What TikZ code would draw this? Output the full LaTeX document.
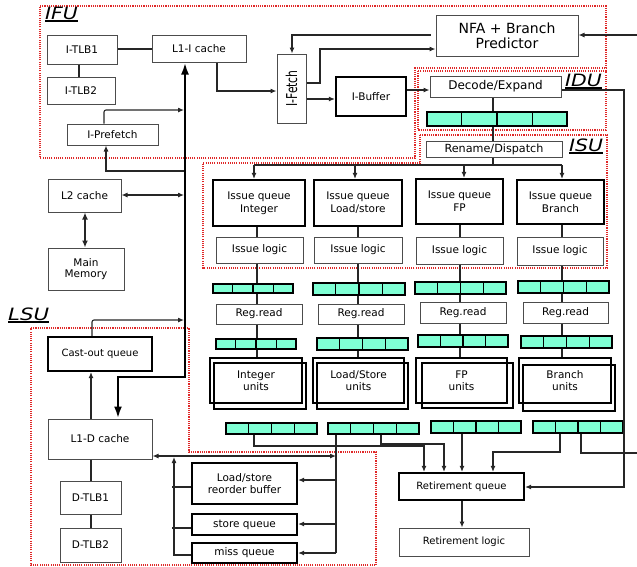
\documentclass[tikz,border=0pt]{standalone}
\usepackage{fontspec}
\setmainfont{DejaVu Sans}
\usetikzlibrary{calc,arrows.meta}
\definecolor{aqua}{HTML}{7FFFD4}
\definecolor{dotred}{HTML}{E02828}
\newcommand\bx[7]{\node[#6, minimum width={(#4)-(#2)}, minimum height={(#5)-(#3)}] (#1) at ({((#2)+(#4))/2},{((#3)+(#5))/2}) {#7};}
\newcommand\cbar[5]{\node[cbarsty, minimum width={(#4)-(#2)}, minimum height={(#5)-(#3)}] (#1) at ({((#2)+(#4))/2},{((#3)+(#5))/2}) {};
  \foreach \k in {1,2,3}{\draw[cellsep] ($(#1.north west)!\k/4!(#1.north east)$) -- ($(#1.south west)!\k/4!(#1.south east)$);}}
\newcommand\ulbl[1]{\setbox0\hbox{#1}\rlap{\rule[-3pt]{\wd0}{1.6pt}}\box0}
\begin{document}
\begin{tikzpicture}[x=1pt,y=-1pt,
  >={Latex[length=6pt,width=5pt]},
  thinbox/.style={draw=black!70, line width=1pt, fill=white, inner sep=0pt, align=center, font=\fontsize{10.5}{12}\selectfont},
  boldbox/.style={thinbox, draw=black, line width=2.2pt},
  unitbox/.style={draw=black, line width=1.3pt, inner sep=0pt, align=center, font=\fontsize{10.5}{12.5}\selectfont},
  cbarsty/.style={draw=black, line width=1.2pt, fill=aqua, inner sep=0pt},
  cellsep/.style={black, line width=1.2pt},
  conn/.style={draw=black!85, line width=1.1pt},
  bus/.style={draw=black, line width=2.6pt, >={Latex[length=12pt,width=8pt]}},
  region/.style={draw=dotred, line width=1.1pt, dash pattern=on 1.1pt off 1.1pt},
  lbl/.style={font=\fontsize{17}{17}\selectfont\itshape, inner sep=0pt, anchor=base west}]
\useasboundingbox (0,0) rectangle (637,566);

% regions
\draw[region] (40,6) -- (606,6) -- (606,68) -- (415,68) -- (415,158) -- (40,158) -- cycle;
\draw[region] (418,71) rectangle (606,130);
\draw[region] (420,135) -- (607,135) -- (607,268) -- (203,268) -- (203,163) -- (420,163) -- cycle;
\draw[region] (31,328) -- (189,328) -- (189,452) -- (376,452) -- (376,565) -- (31,565) -- cycle;

\node[lbl] (ifulbl) at (45,19) {\ulbl{\scalebox{1.2}[1]{IFU}}};
\node[lbl] (idulbl) at (565,86) {\ulbl{\scalebox{1.2}[1]{IDU}}};
\node[lbl] (isulbl) at (569,151) {\ulbl{\scalebox{1.2}[1]{ISU}}};
\node[lbl] (lsulbl) at (8,320) {\ulbl{\scalebox{1.25}[1]{LSU}}};

% IFU
\bx{itlb1}{47}{35}{117}{64}{thinbox}{I-TLB1}
\bx{itlb2}{47}{77}{115}{104}{thinbox}{I-TLB2}
\bx{l1i}{152}{35}{246}{62}{thinbox}{L1-I cache}
\bx{ipref}{67}{124}{158}{145}{thinbox}{I-Prefetch}
\bx{ifetch}{277}{54}{306}{123}{thinbox}{\rotatebox{90}{\scalebox{0.72}[1]{\fontsize{15}{15}\selectfont I-Fetch}}}
\bx{nfa}{436}{15}{578}{56}{thinbox,font=\fontsize{14}{15}\selectfont}{NFA + Branch\\Predictor}
\bx{ibuf}{336}{77}{406}{116}{boldbox}{I-Buffer}
\bx{decode}{430}{76}{561}{97}{thinbox,font=\fontsize{12}{13}\selectfont}{Decode/Expand}
\cbar{bar0}{427}{112}{567}{126}
\bx{rename}{426}{141}{562}{157}{thinbox,font=\fontsize{11.2}{13}\selectfont}{Rename/Dispatch}

% ISU
\bx{iq1}{213}{180}{305}{226}{boldbox,font=\fontsize{10.5}{13}\selectfont}{Issue queue\\Integer}
\bx{iq2}{314}{180}{402}{226}{boldbox,font=\fontsize{10.5}{13}\selectfont}{Issue queue\\Load/store}
\bx{iq3}{416}{179}{503}{224}{boldbox,font=\fontsize{10.5}{13}\selectfont}{Issue queue\\FP}
\bx{iq4}{517}{180}{604}{224}{boldbox,font=\fontsize{10.5}{13}\selectfont}{Issue queue\\Branch}
\bx{il1}{216}{237}{303}{263}{thinbox}{Issue logic}
\bx{il2}{314}{237}{402}{263}{thinbox}{Issue logic}
\bx{il3}{416}{237}{503}{264}{thinbox}{Issue logic}
\bx{il4}{517}{237}{603}{265}{thinbox}{Issue logic}

\cbar{ba1}{213}{284}{293}{293}
\cbar{ba2}{313}{283}{405}{295}
\cbar{ba3}{415}{282}{506}{294}
\cbar{ba4}{518}{281}{609}{293}
\bx{rr1}{216}{304}{302}{324}{thinbox}{Reg.read}
\bx{rr2}{318}{304}{404}{324}{thinbox}{Reg.read}
\bx{rr3}{420}{302}{506}{323}{thinbox}{Reg.read}
\bx{rr4}{523}{302}{608}{323}{thinbox}{Reg.read}
\cbar{bb1}{216}{339}{296}{349}
\cbar{bb2}{317}{338}{408}{350}
\cbar{bb3}{418}{335}{508}{347}
\cbar{bb4}{521}{336}{612}{348}

\bx{ub1}{210}{358}{302}{403}{unitbox}{Integer\\units}
\bx{uf1}{214}{363}{306}{409}{unitbox}{}
\bx{ub2}{313}{358}{404}{403}{unitbox}{Load/Store\\units}
\bx{uf2}{317}{363}{408}{409}{unitbox}{}
\bx{ub3}{416}{358}{507}{403}{unitbox}{FP\\units}
\bx{uf3}{422}{363}{513}{408}{unitbox}{}
\bx{ub4}{519}{358}{611}{403}{unitbox}{Branch\\units}
\bx{uf4}{523}{365}{615}{411}{unitbox}{}

\cbar{bc1}{226}{423}{317}{434}
\cbar{bc2}{328}{423}{419}{434}
\cbar{bc3}{431}{421}{521}{433}
\cbar{bc4}{533}{421}{623}{433}

\bx{rq}{399}{473}{524}{500}{boldbox,font=\fontsize{10}{12}\selectfont}{Retirement queue}
\bx{rl}{399}{528}{529}{556}{thinbox,font=\fontsize{10}{12}\selectfont}{Retirement logic}

% memory side / LSU
\bx{l2}{48}{179}{121}{212}{thinbox}{L2 cache}
\bx{mem}{48}{248}{124}{290}{thinbox,font=\fontsize{10.5}{11.5}\selectfont}{Main\\Memory}
\bx{coq}{48}{337}{152}{371}{boldbox,font=\fontsize{10}{12}\selectfont}{Cast-out queue}
\bx{l1d}{48}{419}{152}{459}{thinbox}{L1-D cache}
\bx{dtlb1}{60}{481}{121}{514}{thinbox}{D-TLB1}
\bx{dtlb2}{60}{528}{121}{562}{thinbox}{D-TLB2}
\bx{lsrb}{192}{463}{297}{504}{boldbox,font=\fontsize{10.5}{11.5}\selectfont}{Load/store\\reorder buffer}
\bx{sq}{192}{514}{297}{535}{boldbox}{store queue}
\bx{mq}{192}{543}{297}{563}{boldbox}{miss queue}

\coordinate (extin) at (637,35);
\coordinate (extout) at (637,453);

% IFU connectors
\draw[conn] (itlb1.east |- 0,49) -- (l1i.west |- 0,49);
\draw[conn] (itlb1.south -| 79,0) -- (itlb2.north -| 79,0);
\draw[conn,->] (l1i.south -| 217,0) |- (ifetch.west |- 0,91);
\draw[bus,<->] (l1d.north -| 118,0) |- (185,377) -- (l1i.south -| 185,0);
\draw[conn,->,rounded corners=2pt] (ipref.north -| 104,0) |- (184,110);
\draw[conn,->] (184,171) -| (ipref.south -| 106,0);
\draw[conn,<->] (l2.east |- 0,195) -- (184,195);
\draw[conn,<->,line width=1.8pt,>={Latex[length=7pt,width=6pt]}] (l2.south -| 85,0) -- (mem.north -| 85,0);
\draw[conn,->,rounded corners=2pt] (coq.north -| 92,0) |- (184,320);
\draw[conn,->] (l1d.north -| 91,0) -- (coq.south -| 91,0);
\draw[conn] (l1d.south -| 91,0) -- (dtlb1.north -| 91,0);
\draw[conn] (dtlb1.south -| 91,0) -- (dtlb2.north -| 91,0);

\draw[conn,->] (extin) -- (nfa.east |- extin);
\draw[conn,->] ([xshift=-5pt]nfa.west |- 0,35) -| (ifetch.north -| 292,0);
\draw[conn,->] (ifetch.east |- 0,83) -| (320,49) -- (nfa.west |- 0,49);
\draw[conn,->] (ifetch.east |- 0,99) -- (ibuf.west |- 0,99);
\draw[conn,->] (ibuf.east |- 0,90) -- (decode.west |- 0,90);
\draw[conn] (decode.south -| 493,0) -- (bar0.north -| 493,0);
\draw[conn] (bar0.south -| 493,0) -- (rename.north -| 493,0);

% dispatch
\draw[conn] (rename.south -| 493,0) -- (493,165);
\draw[conn] (254,165) -- (562,165);
\draw[conn,->] (254,165) -- (iq1.north -| 254,0);
\draw[conn,->] (355,165) -- (iq2.north -| 355,0);
\draw[conn,->] (464,165) -- (iq3.north -| 464,0);
\draw[conn,->] (562,165) -- (iq4.north -| 562,0);

\foreach \c/\xx in {1/257,2/358,3/460,4/562}{
  \draw[conn] (iq\c.south -| \xx,0) -- (il\c.north -| \xx,0);
  \draw[conn] (il\c.south -| \xx,0) -- (ba\c.north -| \xx,0);
  \draw[conn] (ba\c.south -| \xx,0) -- (rr\c.north -| \xx,0);
  \draw[conn] (rr\c.south -| \xx,0) -- (bb\c.north -| \xx,0);
  \draw[conn] (bb\c.south -| \xx,0) -- (ub\c.north -| \xx,0);
}

% retirement
\draw[conn,->] (bc1.south -| 254,0) |- (424,446) -- (rq.north -| 424,0);
\draw[conn,->] (bc2.south -| 381,0) |- (444,444) -- (rq.north -| 444,0);
\draw[conn,->] (bc3.south -| 462,0) -- (rq.north -| 462,0);
\draw[conn,->] (bc4.south -| 560,0) |- (493,452) -- (rq.north -| 493,0);
\draw[conn] (bc4.south -| 581,0) |- (extout);
\draw[conn,->] (decode.east |- 0,90) -| (624,487) -- (rq.east |- 0,487);
\draw[conn,->] (rq.south -| 462,0) -- (rl.north -| 462,0);

% load/store
\draw[conn,<->] (l1d.east |- 0,456) -- (336,456);
\draw[conn] (bc2.south -| 336,0) -- (336,553);
\draw[conn,->] (336,480) -- (lsrb.east |- 0,480);
\draw[conn,->] (336,524) -- (sq.east |- 0,524);
\draw[conn,->] (336,553) -- (mq.east |- 0,553);
\draw[conn,->] (mq.west |- 0,555) -| (174,457);
\draw[conn] (lsrb.west |- 0,487) -- (172,487);
\draw[conn] (sq.west |- 0,528) -- (172,528);
\end{tikzpicture}
\end{document}
